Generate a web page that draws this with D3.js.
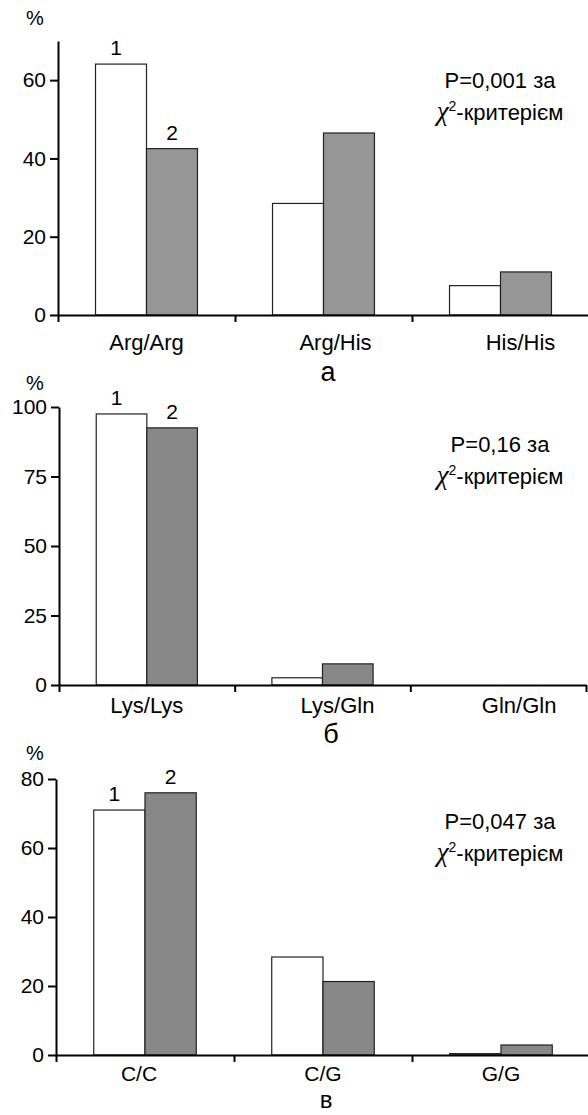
<!DOCTYPE html>
<html>
<head>
<meta charset="utf-8">
<script src="https://cdn.jsdelivr.net/npm/d3@7"></script>
<style>
  body { margin: 0; background: #fff; }
  text { font-family: "Liberation Sans", Arial, sans-serif; fill: #000; }
</style>
</head>
<body>
<div id="chart"></div>
<script>
// data (а, б, в)
var seriesNames = ["1", "2"];

var catsA = ["Arg/Arg", "Arg/His", "His/His"];
var group1A = [64.1, 28.5, 7.5];
var group2A = [42.5, 46.5, 11.0];
var ticksA = [0, 20, 40, 60];

var catsB = ["Lys/Lys", "Lys/Gln", "Gln/Gln"];
var group1B = [97.5, 2.6, 0];
var group2B = [92.5, 7.6, 0];
var ticksB = [0, 25, 50, 75, 100];

var catsC = ["C/C", "C/G", "G/G"];
var group1C = [71.0, 28.4, 0.4];
var group2C = [76.0, 21.3, 2.9];
var ticksC = [0, 20, 40, 60, 80];

var pTexts = ["P=0,001 за", "P=0,16 за", "P=0,047 за"];
var panelLetters = ["а", "б", "в"];

var W = 588, H = 1115;

var svg = d3.select("#chart")
  .append("svg")
    .attr("width", W)
    .attr("height", H);

function drawPanel(cats, g1, g2, ticks, yMax, pText, letter, lay) {
  var g = svg.append("g");

  // y scale
  var y = d3.scaleLinear()
    .domain([0, yMax])
    .range([lay.y0, lay.yTop]);

  // categories -> groups of two bars, centered in each 1/3 of the axis
  var x = d3.scaleBand()
    .domain(cats)
    .range([lay.x0, lay.x1])
    .paddingInner(0.424)
    .paddingOuter(0.212);

  var xs = d3.scaleBand()
    .domain(seriesNames)
    .range([0, x.bandwidth()]);

  // boundaries for the x tick marks
  var xb = d3.scaleLinear().domain([0, cats.length]).range([lay.x0, lay.x1]);

  var rows = cats.map(function(c, i) { return {cat: c, v: [g1[i], g2[i]]}; });

  // bars
  var grp = g.selectAll(".grp")
    .data(rows)
    .enter()
    .append("g")
      .attr("transform", function(d) { return "translate(" + x(d.cat) + ",0)"; });

  grp.selectAll("rect")
    .data(function(d) { return d.v.map(function(v, k) { return {s: seriesNames[k], v: v}; }); })
    .enter()
    .append("rect")
      .attr("x", function(d) { return xs(d.s); })
      .attr("y", function(d) { return y(d.v); })
      .attr("width", xs.bandwidth())
      .attr("height", function(d) { return y(0) - y(d.v); })
      .attr("fill", function(d) { return d.s == "1" ? "#fff" : lay.gray; })
      .attr("stroke", "#222")
      .attr("stroke-width", 1.2)
      .style("display", function(d) { return d.v > 0 ? null : "none"; });

  // series numbers over the first group
  g.selectAll(".num")
    .data(seriesNames)
    .enter()
    .append("text")
      .attr("x", function(d, k) { return x(cats[0]) + xs(d) + xs.bandwidth() / 2 + (k == 0 ? -5 : 0); })
      .attr("y", function(d, k) { return y(k == 0 ? g1[0] : g2[0]) - 9; })
      .attr("text-anchor", "middle")
      .style("font-size", "21px")
      .text(function(d) { return d; });

  // axes
  var yAxis = g.append("g")
    .attr("transform", "translate(" + lay.x0 + ",0)")
    .call(d3.axisLeft(y).tickValues(ticks).tickSize(8).tickSizeOuter(0).tickPadding(4));
  yAxis.selectAll("text").style("font-size", "21px").attr("fill", "#000")
    .style("font-family", "'Liberation Sans', Arial, sans-serif");

  var xAxis = g.append("g")
    .attr("transform", "translate(0," + lay.y0 + ")")
    .call(d3.axisBottom(xb).tickValues(d3.range(cats.length + 1)).tickSize(7).tickSizeOuter(0).tickFormat(""));

  g.selectAll(".domain, .tick line").attr("stroke", "#000").attr("stroke-width", 2);

  // category labels
  g.selectAll(".cat")
    .data(cats)
    .enter()
    .append("text")
      .attr("x", function(d, i) { return x(d) + x.bandwidth() / 2 + lay.catShift[i]; })
      .attr("y", lay.catY)
      .attr("text-anchor", "middle")
      .style("font-size", lay.catSize + "px")
      .text(function(d) { return d; });

  // % unit
  g.append("text")
    .attr("x", 35)
    .attr("y", lay.pctY)
    .attr("text-anchor", "middle")
    .style("font-size", "20px")
    .text("%");

  // p-value note
  g.append("text")
    .attr("x", 500)
    .attr("y", lay.pY)
    .attr("text-anchor", "middle")
    .style("font-size", "22px")
    .text(pText);

  var chi = g.append("text")
    .attr("x", 500)
    .attr("y", lay.pY + 32)
    .attr("text-anchor", "middle")
    .style("font-size", "22px");
  chi.append("tspan")
    .style("font-family", "'Liberation Serif', serif")
    .style("font-style", "italic")
    .style("font-size", "27px")
    .text("χ");
  chi.append("tspan")
    .attr("dy", -9)
    .style("font-size", "14px")
    .text("2");
  chi.append("tspan")
    .attr("dy", 9)
    .text("-критерієм");

  // panel letter
  g.append("text")
    .attr("x", lay.letterX)
    .attr("y", lay.letterY)
    .attr("text-anchor", "middle")
    .style("font-size", lay.letterSize + "px")
    .text(letter);
}

drawPanel(catsA, group1A, group2A, ticksA, 70, pTexts[0], panelLetters[0],
  {x0: 58, x1: 589, yTop: 41, y0: 315, gray: "#969696", pY: 88, catY: 350, catSize: 22,
   catShift: [0, 12, 20], pctY: 25, letterX: 328, letterY: 381, letterSize: 27});

drawPanel(catsB, group1B, group2B, ticksB, 100, pTexts[1], panelLetters[1],
  {x0: 59, x1: 586, yTop: 407, y0: 685, gray: "#888888", pY: 452, catY: 713, catSize: 22,
   catShift: [0, 15, 21], pctY: 390, letterX: 331, letterY: 743, letterSize: 27});

drawPanel(catsC, group1C, group2C, ticksC, 80, pTexts[2], panelLetters[2],
  {x0: 56, x1: 590, yTop: 779, y0: 1055, gray: "#888888", pY: 829, catY: 1081, catSize: 21,
   catShift: [-6, 0, 0], pctY: 760, letterX: 326, letterY: 1108, letterSize: 24});
</script>
</body>
</html>
